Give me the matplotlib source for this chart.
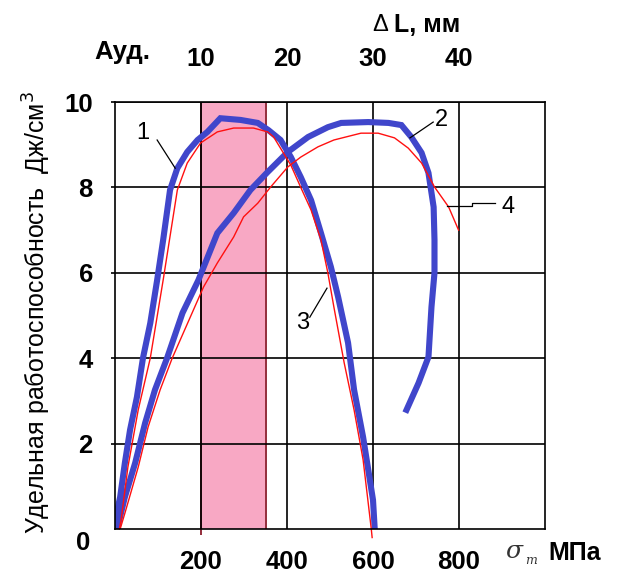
import matplotlib
matplotlib.use("Agg")
import matplotlib.pyplot as plt

plt.rcParams['font.family'] = ['Liberation Sans', 'DejaVu Sans']

# curve 1 (thick blue, left) and its thin red companion
blue1_x = [0, 12, 23, 35, 51, 65, 82, 98, 112, 128, 145, 168, 192, 215, 245, 292, 332, 357,
           385, 409, 432, 456, 479, 502, 519, 542, 556, 577, 600, 604]
blue1_y = [0.2, 0.75, 1.55, 2.32, 3.09, 4.0, 4.82, 5.83, 6.77, 7.94, 8.45, 8.83, 9.11, 9.30, 9.62, 9.58, 9.51, 9.34,
           9.11, 8.71, 8.24, 7.70, 6.93, 6.14, 5.43, 4.36, 3.26, 2.15, 0.68, 0.0]
red1_x = [10, 14, 30, 54, 82, 112, 145, 168, 199, 238, 276, 322, 355, 369, 409, 432, 456, 479,
          495, 509, 533, 556, 577, 596, 598]
red1_y = [0.0, 0.2, 1.45, 2.79, 4.0, 5.83, 7.94, 8.57, 9.04, 9.30, 9.39, 9.39, 9.30, 9.18, 8.52, 8.0, 7.47, 6.77,
          6.0, 5.2, 3.89, 2.79, 1.62, 0.0, -0.2]

# curve 2 (thick blue, right) and curve 4 (thin red)
blue2_x = [5, 23, 47, 70, 93, 121, 157, 194, 238, 276, 315, 355, 402, 449, 495, 526, 589, 636,
           666, 689, 713, 729, 741, 743, 743, 736, 729, 706, 678]
blue2_y = [0.0, 0.75, 1.55, 2.48, 3.26, 4.0, 5.06, 5.83, 6.93, 7.40, 7.94, 8.36, 8.83, 9.18, 9.41, 9.51, 9.53, 9.51,
           9.46, 9.18, 8.81, 8.34, 7.54, 6.77, 6.0, 5.2, 4.03, 3.42, 2.79]
red2_x = [12, 23, 54, 77, 105, 133, 206, 238, 276, 299, 332, 362, 402, 432, 472, 509, 572, 612,
          650, 682, 713, 743, 776, 799]
red2_y = [0.0, 0.37, 1.45, 2.39, 3.26, 4.0, 5.67, 6.23, 6.84, 7.31, 7.63, 8.01, 8.48, 8.71, 8.95, 9.11, 9.27, 9.27,
          9.16, 8.92, 8.57, 8.01, 7.54, 7.0]

band = [200, 350]
x_ticks = [200, 400, 600, 800]
y_ticks = [2, 4, 6, 8, 10]
top_ticks = [10, 20, 30, 40]

W, H = 621, 578
fig = plt.figure(figsize=(W / 100, H / 100), dpi=100)
ax = fig.add_axes([115 / W, 1 - 529 / H, 430 / W, 427 / H])

ax.axvspan(band[0], band[1], color='#F8A8C4', zorder=0, lw=0)
ax.vlines(band, [-0.15, 0], 10, colors='#8B1C2C', lw=1.3, zorder=1, clip_on=False)

ax.plot(blue1_x, blue1_y, color='#4046CB', lw=4.4, zorder=3, solid_joinstyle='miter')
ax.plot(red1_x, red1_y, color='#FF1010', lw=1.0, zorder=4, clip_on=False)
ax.plot(blue2_x, blue2_y, color='#4046CB', lw=4.4, zorder=3, solid_joinstyle='miter')
ax.plot(red2_x, red2_y, color='#FF1010', lw=1.0, zorder=4)

ax.set_xlim(0, 1000)
ax.set_ylim(0, 10)
ax.set_xticks(x_ticks)
ax.set_xticklabels([str(v) for v in x_ticks], fontsize=18.5, fontweight='bold')
ax.set_yticks(y_ticks)
ax.set_yticklabels([str(v) for v in y_ticks], fontsize=18.5, fontweight='bold')
ax.tick_params(axis='x', length=0, pad=15)
ax.tick_params(axis='y', length=3, width=1.2, pad=13)
ax.grid(True, color='black', lw=1.2, zorder=2)
ax.set_axisbelow(False)
for s in ax.spines.values():
    s.set_linewidth(1.2)
    s.set_zorder(5)

ax2 = ax.twiny()
ax2.set_xlim(0, 50)
ax2.set_xticks(top_ticks)
ax2.set_xticklabels([str(v) for v in top_ticks], fontsize=18.5, fontweight='bold')
ax2.tick_params(axis='x', length=0, pad=22)
for s in ax2.spines.values():
    s.set_visible(False)

# curve labels with leader lines
ax.plot([98, 140], [9.11, 8.45], color='black', lw=0.9, zorder=6)
ax.text(65, 9.27, '1', fontsize=17, ha='center', va='center', zorder=6)
ax.plot([740, 686], [9.53, 9.16], color='black', lw=0.9, zorder=6)
ax.text(760, 9.58, '2', fontsize=17, ha='center', va='center', zorder=6)
ax.plot([453, 493], [4.96, 5.64], color='black', lw=0.9, zorder=6)
ax.text(437, 4.82, '3', fontsize=17, ha='center', va='center', zorder=6)
ax.plot([772, 830, 830, 884], [7.56, 7.56, 7.63, 7.63], color='black', lw=0.9, zorder=6)
ax.text(914, 7.54, '4', fontsize=17, ha='center', va='center', zorder=6)


def fpos(px, py):
    return px / W, 1 - py / H


fig.text(*fpos(83, 543), '0', fontsize=18.5, fontweight='bold', ha='center', va='center')
fig.text(*fpos(122, 52), 'Ауд.', fontsize=18.5, fontweight='bold', ha='center', va='center')
fig.text(*fpos(380, 25), 'Δ', fontsize=17, ha='center', va='center')
fig.text(*fpos(394, 25), 'L, мм', fontsize=18, fontweight='bold', ha='left', va='center')
fig.text(*fpos(514, 552), 'σ', fontsize=18, family='DejaVu Serif', style='italic',
         color='#333333', ha='center', va='center')
fig.text(*fpos(531, 561), 'т', fontsize=9, family='DejaVu Serif', style='italic',
         color='#333333', ha='center', va='center')
fig.text(*fpos(548, 553), 'МПа', fontsize=18, fontweight='bold', ha='left', va='center')
fig.text(*fpos(37, 312), 'Удельная работоспособность  Дж/см$^{3}$', fontsize=18,
         rotation=90, ha='center', va='center')

fig.savefig('out.png', dpi=100)
